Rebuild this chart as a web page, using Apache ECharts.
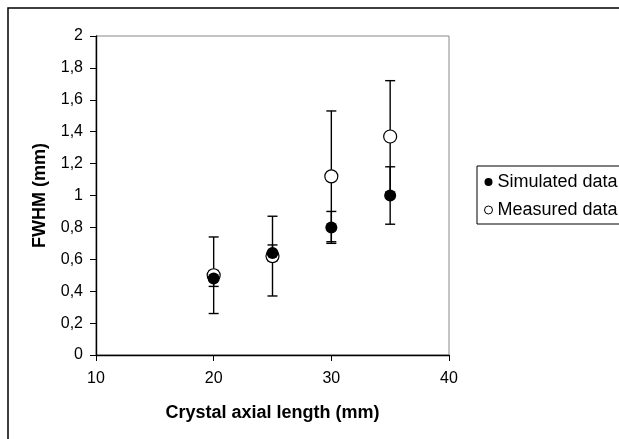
<!DOCTYPE html>
<html>
<head>
<meta charset="utf-8">
<script src="https://cdn.jsdelivr.net/npm/echarts@6/dist/echarts.min.js"></script>
<style>
  html, body { margin: 0; padding: 0; background: #fff; }
  #chart { width: 619px; height: 439px; }
</style>
</head>
<body>
<div id="chart"></div>
<script>
// crystal axial length (mm)
var lengths = [20, 25, 30, 35]
// FWHM values (mm)
var simulated = [0.48, 0.64, 0.80, 1.00]
var simulatedErr = [0.05, 0.05, 0.10, 0.18]
var measured = [0.50, 0.62, 1.12, 1.37]
var measuredErr = [0.24, 0.25, 0.41, 0.35]

function fmt(v) {
  return String(Math.round(v * 10) / 10).replace('.', ',')
}

function errData(vals, errs) {
  return lengths.map(function (x, i) {
    return [x, vals[i] - errs[i], vals[i] + errs[i]]
  })
}

// vertical error bar with caps
function renderErr(params, api) {
  var x = api.value(0)
  var lo = api.coord([x, api.value(1)])
  var hi = api.coord([x, api.value(2)])
  var w = 5
  var st = { stroke: '#000', lineWidth: 1.4 }
  return {
    type: 'group',
    children: [
      { type: 'line', shape: { x1: hi[0], y1: hi[1], x2: lo[0], y2: lo[1] }, style: st },
      { type: 'line', shape: { x1: hi[0] - w, y1: hi[1], x2: hi[0] + w, y2: hi[1] }, style: st },
      { type: 'line', shape: { x1: lo[0] - w, y1: lo[1], x2: lo[0] + w, y2: lo[1] }, style: st }
    ]
  }
}

var chart = echarts.init(document.getElementById('chart'))
var option = {
  animation: false,
  textStyle: { fontFamily: 'Liberation Sans, Arial, sans-serif' },
  graphic: [
    {
      type: 'rect',
      shape: { x: 8, y: 8, width: 700, height: 500 },
      style: { fill: 'none', stroke: '#000', lineWidth: 1.5 },
      z: 0
    },
    {
      type: 'rect',
      shape: { x: 96, y: 36, width: 353, height: 319 },
      style: { fill: 'none', stroke: '#888', lineWidth: 1 },
      z: 0
    }
  ],
  grid: { left: 96, top: 36, right: 170, bottom: 84 },
  legend: {
    orient: 'vertical',
    left: 477,
    top: 166,
    padding: [7, 40, 5, 7],
    itemGap: 10,
    itemWidth: 8,
    itemHeight: 8,
    borderColor: '#000',
    borderWidth: 1,
    borderRadius: 0,
    textStyle: { fontSize: 18, lineHeight: 18, color: '#000' },
    data: [
      { name: 'Simulated data', icon: 'circle', itemStyle: { color: '#000' } },
      { name: 'Measured data', icon: 'circle', itemStyle: { color: '#fff', borderColor: '#000', borderWidth: 1 } }
    ]
  },
  xAxis: {
    type: 'value',
    min: 10,
    max: 40,
    interval: 10,
    name: 'Crystal axial length (mm)',
    nameLocation: 'middle',
    nameGap: 49,
    nameTextStyle: { fontSize: 18, fontWeight: 'bold', color: '#000' },
    axisLine: { show: true, lineStyle: { color: '#000', width: 1.4 } },
    axisTick: { show: true, length: 6, lineStyle: { color: '#000' } },
    axisLabel: { fontSize: 16, color: '#000', margin: 16 },
    splitLine: { show: false }
  },
  yAxis: {
    type: 'value',
    min: 0,
    max: 2,
    interval: 0.2,
    name: 'FWHM (mm)',
    nameLocation: 'middle',
    nameGap: 47,
    nameTextStyle: { fontSize: 18, fontWeight: 'bold', color: '#000' },
    axisLine: { show: true, lineStyle: { color: '#000', width: 1.4 } },
    axisTick: { show: true, inside: false, length: 6, lineStyle: { color: '#000' } },
    axisLabel: { fontSize: 16, color: '#000', margin: 13, formatter: fmt },
    splitLine: { show: false }
  },
  series: [
    {
      type: 'custom',
      name: 'errMeas',
      renderItem: renderErr,
      data: errData(measured, measuredErr),
      encode: { x: 0, y: [1, 2] },
      z: 1
    },
    {
      type: 'custom',
      name: 'errSim',
      renderItem: renderErr,
      data: errData(simulated, simulatedErr),
      encode: { x: 0, y: [1, 2] },
      z: 1
    },
    {
      name: 'Measured data',
      type: 'scatter',
      symbol: 'circle',
      symbolSize: 13,
      itemStyle: { color: '#fff', borderColor: '#000', borderWidth: 1.2, opacity: 1 },
      data: lengths.map(function (x, i) { return [x, measured[i]] }),
      z: 3
    },
    {
      name: 'Simulated data',
      type: 'scatter',
      symbol: 'circle',
      symbolSize: 12,
      itemStyle: { color: '#000', opacity: 1 },
      data: lengths.map(function (x, i) { return [x, simulated[i]] }),
      z: 4
    }
  ]
}
chart.setOption(option)
window.addEventListener('resize', function () {
  chart.resize()
})
</script>
</body>
</html>
